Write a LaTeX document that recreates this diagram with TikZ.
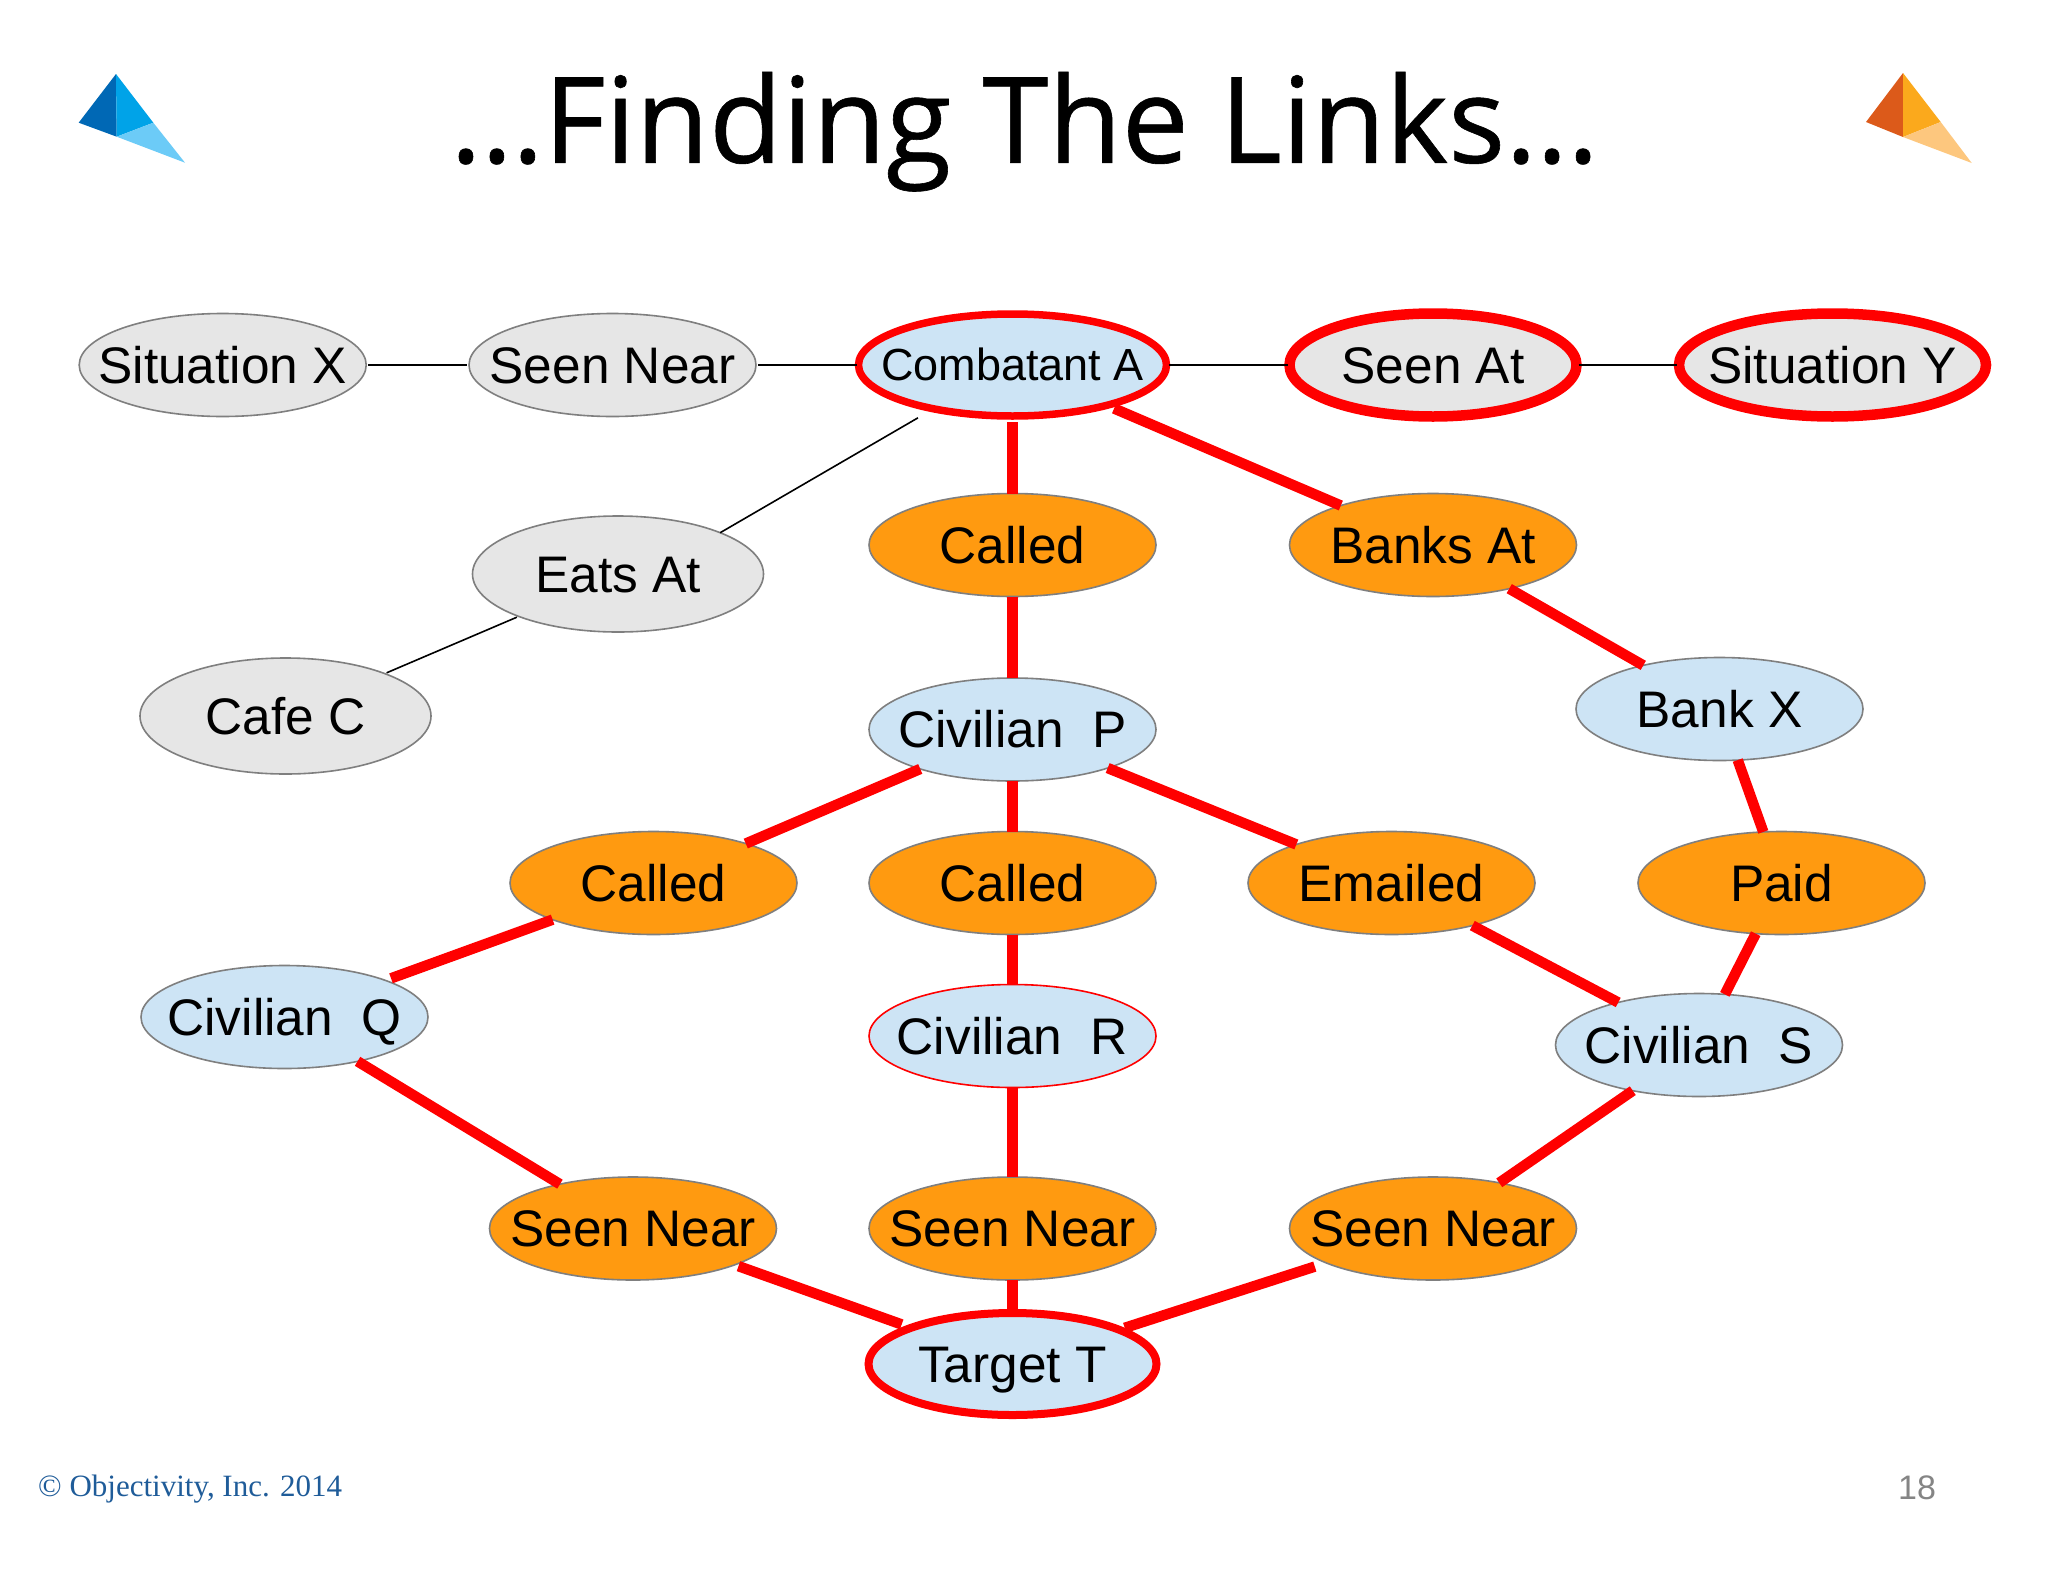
\documentclass[tikz,border=0pt]{standalone}
\usepackage{fontspec}
\setmainfont{Liberation Sans}
\newfontfamily\titlefont[FakeBold=0.5]{Open Sans}
\newfontfamily\footfont{Liberation Serif}
\usetikzlibrary{shapes.geometric}
\definecolor{greyfill}{HTML}{E6E6E6}
\definecolor{bluefill}{HTML}{CDE4F5}
\definecolor{orangefill}{HTML}{FF9A10}
\definecolor{edgegrey}{HTML}{7F7F7F}
\definecolor{hotred}{HTML}{FF0000}
\definecolor{footblue}{HTML}{1F5C99}
\definecolor{numgrey}{HTML}{858585}
\newcommand{\lb}[1]{\makebox[0pt]{\raisebox{-0.358em}[0pt][0pt]{#1}}}
\tikzset{
  el/.style={ellipse,draw=edgegrey,line width=1.6pt,inner sep=0pt,outer sep=0pt,minimum width=287pt,minimum height=103pt,text=black,font=\fontsize{51.4}{51}\selectfont},
  greyel/.style={el,fill=greyfill},
  blueel/.style={el,fill=bluefill},
  orangeel/.style={el,fill=orangefill},
  hot/.style={draw=hotred},
  thinlink/.style={draw=black,line width=1.6pt,shorten <=2pt,shorten >=2pt},
  redlink/.style={draw=hotred,line width=10.5pt},
}
\begin{document}
\begin{tikzpicture}[x=1pt,y=-1pt]
\useasboundingbox (0,0) rectangle (2048,1582);
\fill[white] (0,0) rectangle (2048,1582);
% logos
\fill[fill={rgb,255:red,0;green,104;blue,181}] (116,74) -- (78.7,122.7) -- (116.7,136.7) -- cycle;
\fill[fill={rgb,255:red,0;green,163;blue,232}] (116,74) -- (153.3,122.7) -- (116.7,136.7) -- cycle;
\fill[fill={rgb,255:red,108;green,203;blue,247}] (116.7,136.7) -- (153.3,122.7) -- (185,162.7) -- cycle;
\fill[fill={rgb,255:red,220;green,90;blue,26}] (1903,73) -- (1866,122) -- (1903,137) -- cycle;
\fill[fill={rgb,255:red,251;green,169;blue,28}] (1903,73) -- (1940.7,122) -- (1903,137) -- cycle;
\fill[fill={rgb,255:red,253;green,199;blue,126}] (1903,137) -- (1940.7,122) -- (1971.7,163) -- cycle;
% title and footer
\node[inner sep=0pt,font=\titlefont\fontsize{119.5}{120}\selectfont,text=black] (title) at (1024.5,120) {\lb{…Finding The Links…}};
\node[inner sep=0pt,anchor=west,font=\footfont\fontsize{31}{31}\selectfont,text=footblue] (foot) at (38,1489) {© Objectivity, Inc. 2014};
\node[inner sep=0pt,font=\fontsize{34}{34}\selectfont,text=numgrey] (num) at (1917,1488) {18};
% nodes
\node[greyel] (sx) at (222.7,365) {\lb{Situation X}};
\node[greyel] (sn) at (612.5,365) {\lb{Seen Near}};
\node[blueel,hot,line width=7.5pt,minimum width=308pt,minimum height=102pt,font=\fontsize{45}{45}\selectfont] (ca) at (1012.5,365) {\raisebox{1pt}{\lb{Combatant A}}};
\node[greyel,hot,line width=10.5pt,minimum width=287pt,minimum height=103pt] (sa) at (1433,365) {\lb{Seen At}};
\node[greyel,hot,line width=10.5pt,minimum width=307pt,minimum height=103pt] (sy) at (1832.5,365) {\lb{Situation Y}};
\node[orangeel] (c1) at (1012.5,545) {\lb{Called}};
\node[orangeel] (ba) at (1433,545) {\lb{Banks At}};
\node[greyel,minimum width=291pt,minimum height=116pt] (ea) at (618,574) {\lb{Eats At}};
\node[greyel,minimum width=291pt,minimum height=116pt] (cc) at (285.5,716) {\lb{Cafe C}};
\node[blueel] (cp) at (1012.5,729.5) {\lb{Civilian\ \ P}};
\node[blueel] (bx) at (1719.5,709) {\lb{Bank X}};
\node[orangeel] (c2) at (653.5,883) {\lb{Called}};
\node[orangeel] (c3) at (1012.5,883) {\lb{Called}};
\node[orangeel] (em) at (1391.5,883) {\lb{Emailed}};
\node[orangeel] (pd) at (1781.5,883) {\lb{Paid}};
\node[blueel] (cq) at (284.5,1017) {\lb{Civilian\ \ Q}};
\node[blueel,hot] (cr) at (1012.5,1036) {\lb{Civilian\ \ R}};
\node[blueel] (cs) at (1699,1045) {\lb{Civilian\ \ S}};
\node[orangeel] (nl) at (633,1228.5) {\lb{Seen Near}};
\node[orangeel] (nm) at (1012.5,1228.5) {\lb{Seen Near}};
\node[orangeel] (nr) at (1433,1228.5) {\lb{Seen Near}};
\node[blueel,hot,line width=8pt,minimum width=288pt,minimum height=102pt] (tt) at (1012.5,1364) {\lb{Target T}};
% thin links
\draw[thinlink] (sx) -- (sn);
\draw[thinlink] (sn) -- (ca);
\draw[thinlink] (ca) -- (sa);
\draw[thinlink] (sa) -- (sy);
\draw[thinlink,shorten <=18pt,shorten >=0pt] (ca.209) -- (ea.22);
\draw[thinlink] (ea) -- (cc);
% red links
\draw[redlink,shorten <=6pt] (ca) -- (c1);
\draw[redlink,shorten <=8pt] (ca) -- (ba);
\draw[redlink] (c1) -- (cp);
\draw[redlink] (ba) -- (bx);
\draw[redlink] (bx) -- (pd);
\draw[redlink] (pd) -- (cs);
\draw[redlink] (cp) -- (c2);
\draw[redlink] (cp) -- (c3);
\draw[redlink] (cp) -- (em);
\draw[redlink] (em) -- (cs);
\draw[redlink,shorten >=6pt] (c2) -- (cq);
\draw[redlink] (c3) -- (cr);
\draw[redlink] (cq) -- (nl);
\draw[redlink] (cr) -- (nm);
\draw[redlink] (cs) -- (nr);
\draw[redlink,shorten <=4pt,shorten >=10pt] (nl) -- (tt);
\draw[redlink] (nm) -- (tt);
\draw[redlink,shorten <=12pt,shorten >=6pt] (nr) -- (tt);
\end{tikzpicture}
\end{document}
